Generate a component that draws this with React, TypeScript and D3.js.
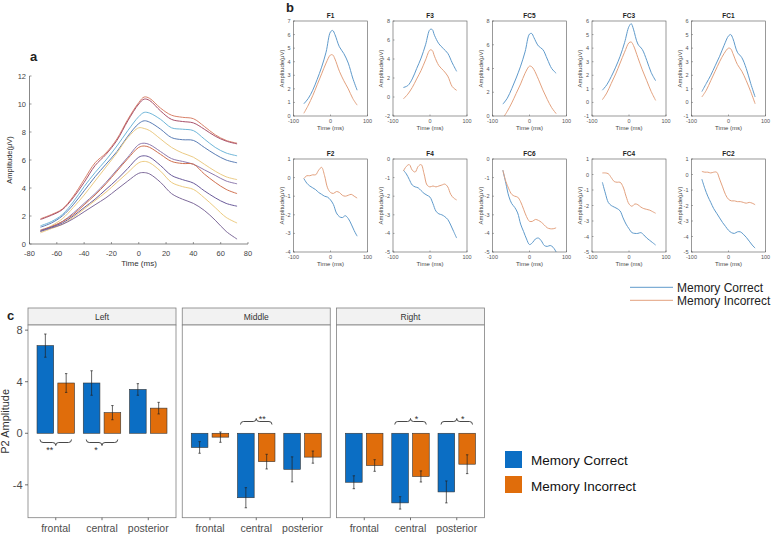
import React from "react";
import * as d3 from "d3";

const FONT = "'Liberation Sans', Arial, sans-serif";

// ---------- a: grand-average waveforms (10 channels) ----------
const timeA = [-72, -64, -56, -48, -40, -32, -24, -16, -8, 0, 4, 8, 16, 24, 32, 40, 48, 56, 64, 72];
const waveA1 = [1.8, 2.1, 2.5, 3.4, 4.6, 5.8, 6.5, 7.5, 8.9, 10.1, 10.5, 10.4, 9.7, 9.2, 9.05, 8.95, 8.4, 7.8, 7.4, 7.2];
const waveA2 = [1.75, 2.05, 2.45, 3.3, 4.4, 5.6, 6.4, 7.4, 8.8, 10.0, 10.35, 10.25, 9.5, 8.9, 8.75, 8.65, 8.2, 7.7, 7.35, 7.15];
const waveA3 = [1.3, 1.6, 2.1, 3.0, 4.1, 5.1, 6.0, 7.0, 8.1, 9.1, 9.4, 9.35, 8.9, 8.3, 8.2, 8.1, 7.5, 6.9, 6.5, 6.3];
const waveA4 = [1.2, 1.5, 2.0, 2.8, 3.8, 4.8, 5.7, 6.6, 7.7, 8.6, 8.8, 8.7, 8.2, 7.6, 7.45, 7.4, 6.9, 6.4, 6.0, 5.8];
const waveA5 = [0.9, 1.3, 1.8, 2.6, 3.5, 4.5, 5.5, 6.5, 7.6, 8.3, 8.25, 8.1, 7.5, 6.9, 6.5, 6.2, 5.7, 5.2, 4.8, 4.6];
const waveA6 = [0.9, 1.2, 1.6, 2.2, 2.9, 3.6, 4.4, 5.3, 6.2, 7.1, 7.2, 7.1, 6.6, 6.1, 5.9, 5.7, 5.3, 4.9, 4.5, 4.3];
const waveA7 = [1.0, 1.25, 1.6, 2.1, 2.8, 3.5, 4.3, 5.2, 6.1, 6.9, 7.0, 6.9, 6.4, 5.9, 5.75, 5.7, 5.0, 4.4, 3.9, 3.6];
const waveA8 = [0.95, 1.2, 1.5, 2.0, 2.6, 3.2, 3.9, 4.6, 5.4, 6.2, 6.3, 6.2, 5.6, 4.9, 4.6, 4.35, 3.8, 3.3, 2.9, 2.7];
const waveA9 = [0.8, 1.1, 1.4, 1.9, 2.5, 3.1, 3.7, 4.4, 5.1, 5.8, 5.9, 5.8, 5.2, 4.4, 4.1, 3.9, 3.3, 2.6, 1.9, 1.5];
const waveA10 = [0.9, 1.15, 1.4, 1.8, 2.3, 2.8, 3.3, 3.9, 4.5, 5.05, 5.1, 5.0, 4.4, 3.6, 3.2, 2.9, 2.4, 1.7, 0.9, 0.35];
const wavesA = [waveA1, waveA2, waveA3, waveA4, waveA5, waveA6, waveA7, waveA8, waveA9, waveA10];
const waveColorsA = ["#D9826A", "#A8506A", "#6FB6D9", "#5A7DB5", "#EBCB85", "#8E7AAE", "#D0704F", "#6A5A9A", "#EDCB80", "#7E6A9A"];

// ---------- b: per-channel waveforms by memory outcome ----------
const timeB1 = [-72, -60, -48, -36, -24, -12, 0, 6, 12, 24, 36, 48, 60, 72];
const timeB2 = [-72, -64, -56, -48, -40, -32, -24, -16, -8, 0, 8, 16, 24, 32, 40, 48, 56, 64, 72];

const channelsTop = ["F1", "F3", "FC5", "FC3", "FC1"];
const channelsBottom = ["F2", "F4", "FC6", "FC4", "FC2"];

const correctF1 = [0.9, 1.3, 1.9, 2.7, 3.6, 4.7, 6.2, 6.3, 6.0, 5.1, 4.6, 3.9, 2.8, 1.9];
const incorrectF1 = [0.2, 0.8, 1.5, 2.3, 3.1, 3.9, 4.5, 4.5, 4.2, 3.3, 2.6, 2.0, 1.3, 0.8];
const correctF3 = [1.0, 1.2, 1.9, 3.0, 4.1, 5.5, 7.1, 7.1, 6.5, 5.6, 5.1, 4.6, 3.6, 2.7];
const incorrectF3 = [-0.2, 0.3, 1.0, 1.9, 2.8, 3.9, 4.95, 4.9, 4.3, 3.3, 2.8, 2.2, 1.1, 0.7];
const correctFC5 = [1.0, 1.5, 2.3, 3.2, 4.2, 5.4, 6.9, 6.95, 6.6, 5.9, 5.6, 4.8, 4.0, 3.6];
const incorrectFC5 = [-0.2, 0.4, 1.1, 1.9, 2.7, 3.6, 4.2, 4.15, 3.9, 3.1, 2.2, 1.4, 0.7, 0.2];
const correctFC3 = [0.9, 1.3, 1.9, 2.6, 3.4, 4.4, 5.6, 5.8, 5.4, 4.3, 3.9, 3.1, 2.2, 1.6];
const incorrectFC3 = [0.2, 0.7, 1.4, 2.1, 2.9, 3.7, 4.4, 4.45, 4.2, 3.3, 2.4, 1.6, 0.8, 0.15];
const correctFC1 = [0.8, 1.4, 2.0, 2.7, 3.4, 4.2, 4.9, 5.0, 4.7, 3.7, 3.3, 2.5, 1.4, 0.4];
const incorrectFC1 = [0.4, 0.9, 1.6, 2.3, 3.0, 3.6, 4.0, 3.95, 3.6, 2.8, 2.3, 1.6, 0.8, -0.1];

const correctF2 = [-0.05, -0.3, -0.45, -0.55, -0.65, -0.8, -0.9, -1.0, -1.05, -1.2, -1.45, -1.9, -2.1, -2.15, -2.05, -2.2, -2.5, -2.85, -3.15];
const incorrectF2 = [-0.05, 0.1, 0.1, 0.15, 0.15, 0.4, 0.55, 0.1, -0.55, -0.8, -0.85, -0.75, -0.8, -0.95, -1.0, -0.95, -0.9, -1.0, -1.1];
const correctF4 = [-0.6, -0.8, -1.1, -1.4, -1.5, -1.55, -1.7, -1.85, -1.95, -2.05, -2.4, -2.8, -2.95, -3.0, -3.1, -3.25, -3.55, -3.9, -4.25];
const incorrectF4 = [-0.65, -0.4, -0.3, -0.6, -0.7, -0.4, -0.3, -0.8, -1.4, -1.5, -1.45, -1.5, -1.45, -1.4, -1.35, -1.5, -1.9, -2.1, -2.2];
const correctFC6 = [-0.6, -1.3, -2.0, -2.4, -2.6, -2.9, -3.5, -3.9, -4.3, -4.6, -4.5, -4.3, -4.25, -4.4, -4.65, -4.7, -4.65, -4.75, -5.0];
const incorrectFC6 = [-0.6, -1.2, -1.6, -1.9, -2.0, -2.05, -2.3, -2.7, -3.1, -3.35, -3.35, -3.25, -3.3, -3.4, -3.55, -3.7, -3.75, -3.75, -3.7];
const correctFC4 = [-0.5, -1.2, -1.8, -2.0, -2.1, -2.2, -2.35, -2.8, -3.2, -3.5, -3.75, -3.8, -3.8, -3.75, -3.9, -4.1, -4.25, -4.4, -4.55];
const incorrectFC4 = [0.1, 0.1, 0.05, -0.2, -0.45, -0.5, -0.5, -0.8, -1.4, -1.9, -2.05, -1.9, -1.95, -2.1, -2.2, -2.25, -2.3, -2.4, -2.5];
const correctFC2 = [-0.3, -0.9, -1.4, -1.8, -2.2, -2.5, -2.8, -3.1, -3.35, -3.6, -3.75, -3.8, -3.7, -3.7, -3.85, -4.05, -4.3, -4.55, -4.75];
const incorrectFC2 = [0.2, 0.15, 0.15, 0.1, 0.15, 0.15, -0.3, -0.8, -1.3, -1.6, -1.7, -1.7, -1.75, -1.75, -1.8, -1.85, -1.8, -1.85, -1.95];

const yLimitsTop = [[0, 7], [-2, 8], [0, 8], [-1, 6], [-1, 6]];
const yStepsTop = [1, 2, 2, 1, 1];
const yLimitsBottom = [[-4, 1], [-5, 0], [-5, 0], [-5, 1], [-5, 1]];
const correctTop = [correctF1, correctF3, correctFC5, correctFC3, correctFC1];
const incorrectTop = [incorrectF1, incorrectF3, incorrectFC5, incorrectFC3, incorrectFC1];
const correctBottom = [correctF2, correctF4, correctFC6, correctFC4, correctFC2];
const incorrectBottom = [incorrectF2, incorrectF4, incorrectFC6, incorrectFC4, incorrectFC2];
const timeTicksB = [-100, 0, 100];

const LINE_BLUE = "#5F9ACB";
const LINE_ORANGE = "#E3A17E";

// ---------- c: P2 amplitude by region and site ----------
const regions = ["Left", "Middle", "Right"];
const sites = ["frontal", "central", "posterior"];
const correctMean = [[6.8, 3.9, 3.4], [-1.1, -5.0, -2.8], [-3.8, -5.4, -4.55]];
const correctSE = [[0.9, 0.95, 0.45], [0.45, 0.78, 0.97], [0.5, 0.48, 0.85]];
const incorrectMean = [[3.9, 1.6, 1.95], [-0.3, -2.2, -1.85], [-2.5, -3.35, -2.4]];
const incorrectSE = [[0.73, 0.55, 0.45], [0.4, 0.57, 0.47], [0.45, 0.43, 0.73]];
const yTicksC = [-4, 0, 4, 8];
// significance braces: region index, site index, label, placed below (true) or above (false) the bars
const sigRegion = [0, 0, 1, 2, 2];
const sigSite = [0, 1, 1, 1, 2];
const sigLabel = ["**", "*", "**", "*", "*"];
const sigBelow = [true, true, false, false, false];

const BAR_BLUE = "#0B6EC4";
const BAR_ORANGE = "#E06D0B";
const legendLabels = ["Memory Correct", "Memory Incorrect"];

function PanelA() {
  const x = d3.scaleLinear().domain([-80, 80]).range([29.5, 248]);
  const y = d3.scaleLinear().domain([0, 12]).range([244, 76]);
  const line = d3
    .line<number>()
    .x((_, i) => x(timeA[i]))
    .y((d) => y(d))
    .curve(d3.curveCatmullRom);
  const axisColor = "#555";
  return (
    <g>
      <text x={30} y={61} fontSize={13} fontWeight="bold" fill="#222">a</text>
      {wavesA.map((w, i) => (
        <path key={i} d={line(w) || ""} fill="none" stroke={waveColorsA[i]} strokeWidth={1} />
      ))}
      <line x1={x(-80)} x2={x(80)} y1={y(0)} y2={y(0)} stroke={axisColor} strokeWidth={0.7} />
      <line x1={x(-80)} x2={x(-80)} y1={y(0)} y2={y(12)} stroke={axisColor} strokeWidth={0.7} />
      {x.ticks(8).map((t) => (
        <g key={t}>
          <line x1={x(t)} x2={x(t)} y1={y(0)} y2={y(0) - 2} stroke={axisColor} strokeWidth={0.6} />
          <text x={x(t)} y={255.5} fontSize={7.5} textAnchor="middle" fill="#444" fontFamily={FONT}>{t}</text>
        </g>
      ))}
      {y.ticks(6).map((t) => (
        <g key={t}>
          <line x1={x(-80)} x2={x(-80) + 2} y1={y(t)} y2={y(t)} stroke={axisColor} strokeWidth={0.6} />
          <text x={26} y={y(t) + 2.6} fontSize={7.5} textAnchor="end" fill="#444" fontFamily={FONT}>{t}</text>
        </g>
      ))}
      <text x={139} y={266} fontSize={8} textAnchor="middle" fill="#333" fontFamily={FONT}>Time (ms)</text>
      <text transform={`translate(12,160) rotate(-90)`} fontSize={7.5} textAnchor="middle" fill="#333" fontFamily={FONT}>Amplitude(μV)</text>
    </g>
  );
}

interface SmallProps {
  id: string;
  title: string;
  x0: number;
  y0: number;
  w: number;
  h: number;
  ylim: number[];
  step: number;
  times: number[];
  correct: number[];
  incorrect: number[];
}

function SmallPanel({ id, title, x0, y0, w, h, ylim, step, times, correct, incorrect }: SmallProps) {
  const x = d3.scaleLinear().domain([-100, 100]).range([x0, x0 + w]);
  const y = d3.scaleLinear().domain(ylim).range([y0 + h, y0]);
  const line = d3
    .line<number>()
    .x((_, i) => x(times[i]))
    .y((d) => y(d))
    .curve(d3.curveCatmullRom);
  const yTicks = d3.range(ylim[0], ylim[1] + step / 2, step);
  const c = "#555";
  return (
    <g>
      <defs>
        <clipPath id={id}>
          <rect x={x0} y={y0} width={w} height={h} />
        </clipPath>
      </defs>
      <g clipPath={`url(#${id})`}>
        <path d={line(correct) || ""} fill="none" stroke={LINE_BLUE} strokeWidth={1} />
        <path d={line(incorrect) || ""} fill="none" stroke={LINE_ORANGE} strokeWidth={1} />
      </g>
      <rect x={x0} y={y0} width={w} height={h} fill="none" stroke={c} strokeWidth={0.6} />
      {timeTicksB.map((t) => (
        <g key={t}>
          <line x1={x(t)} x2={x(t)} y1={y0 + h} y2={y0 + h - 1.5} stroke={c} strokeWidth={0.5} />
          <text x={x(t)} y={y0 + h + 7} fontSize={5.5} textAnchor="middle" fill="#555" fontFamily={FONT}>{t}</text>
        </g>
      ))}
      {yTicks.map((t) => (
        <g key={t}>
          <line x1={x0} x2={x0 + 1.5} y1={y(t)} y2={y(t)} stroke={c} strokeWidth={0.5} />
          <text x={x0 - 3} y={y(t) + 2} fontSize={5.5} textAnchor="end" fill="#555" fontFamily={FONT}>{t}</text>
        </g>
      ))}
      <text x={x0 + w / 2} y={y0 - 3} fontSize={6.5} fontWeight="bold" textAnchor="middle" fill="#222" fontFamily={FONT}>{title}</text>
      <text x={x0 + w / 2} y={y0 + h + 14} fontSize={6} textAnchor="middle" fill="#444" fontFamily={FONT}>Time (ms)</text>
      <text transform={`translate(${x0 - 10},${y0 + h / 2}) rotate(-90)`} fontSize={6} textAnchor="middle" fill="#444" fontFamily={FONT}>Amplitude(μV)</text>
    </g>
  );
}

function PanelB() {
  const w = 74;
  const colX = d3.scaleLinear().domain([0, 4]).range([293.5, 691.5]);
  return (
    <g>
      <text x={286} y={12} fontSize={13} fontWeight="bold" fill="#222">b</text>
      {channelsTop.map((ch, i) => (
        <SmallPanel key={ch} id={`clip-${ch}`} title={ch} x0={colX(i)} y0={21} w={w} h={95}
          ylim={yLimitsTop[i]} step={yStepsTop[i]} times={timeB1} correct={correctTop[i]} incorrect={incorrectTop[i]} />
      ))}
      {channelsBottom.map((ch, i) => (
        <SmallPanel key={ch} id={`clip-${ch}`} title={ch} x0={colX(i)} y0={159} w={w} h={93}
          ylim={yLimitsBottom[i]} step={1} times={timeB2} correct={correctBottom[i]} incorrect={incorrectBottom[i]} />
      ))}
      {legendLabels.map((lab, i) => (
        <g key={lab}>
          <line x1={630} x2={673} y1={287.3 + i * 13} y2={287.3 + i * 13} stroke={i === 0 ? LINE_BLUE : LINE_ORANGE} strokeWidth={1} />
          <text x={677} y={291.5 + i * 13} fontSize={12} fill="#222" fontFamily={FONT}>{lab}</text>
        </g>
      ))}
    </g>
  );
}

function bracePath(x1: number, x2: number, y: number, below: boolean) {
  const d = below ? -3 : 3; // end hooks point toward the bars
  const xm = (x1 + x2) / 2;
  return `M${x1},${y + d} Q${x1},${y} ${x1 + 3},${y} L${xm - 3},${y} Q${xm},${y} ${xm},${y - d} Q${xm},${y} ${xm + 3},${y} L${x2 - 3},${y} Q${x2},${y} ${x2},${y + d}`;
}

function PanelC() {
  const panelW = 148;
  const panelLeft = d3.scaleLinear().domain([0, 2]).range([28, 336.5]);
  const top = 308;
  const stripBottom = 325;
  const bottom = 517.7;
  const y = d3.scaleLinear().domain([-6.55, 8.4]).range([bottom, stripBottom]);
  const frame = "#808080";
  return (
    <g fontFamily={FONT}>
      <text x={7} y={320} fontSize={13} fontWeight="bold" fill="#222">c</text>
      {regions.map((reg, r) => {
        const px = panelLeft(r);
        const xs = d3.scalePoint<string>().domain(sites).range([px, px + panelW]).padding(0.6);
        const step = xs.step();
        const bw = 0.36 * step;
        const off = 0.225 * step;
        return (
          <g key={reg}>
            <rect x={px} y={top} width={panelW} height={stripBottom - top} fill="#F2F2F2" stroke={frame} strokeWidth={0.8} />
            <text x={px + panelW / 2} y={top + 11.5} fontSize={8.5} textAnchor="middle" fill="#333">{reg}</text>
            <rect x={px} y={stripBottom} width={panelW} height={bottom - stripBottom} fill="#fff" stroke={frame} strokeWidth={0.8} />
            {sites.map((s, k) => {
              const cx = xs(s) as number;
              const bars = [
                { m: correctMean[r][k], se: correctSE[r][k], fill: BAR_BLUE, c: cx - off },
                { m: incorrectMean[r][k], se: incorrectSE[r][k], fill: BAR_ORANGE, c: cx + off },
              ];
              return (
                <g key={s}>
                  {bars.map((b, j) => (
                    <g key={j}>
                      <rect x={b.c - bw / 2} y={Math.min(y(0), y(b.m))} width={bw} height={Math.abs(y(b.m) - y(0))}
                        fill={b.fill} stroke="#333" strokeWidth={0.6} />
                      <line x1={b.c} x2={b.c} y1={y(b.m + b.se)} y2={y(b.m - b.se)} stroke="#222" strokeWidth={0.7} />
                      <line x1={b.c - 1.2} x2={b.c + 1.2} y1={y(b.m + b.se)} y2={y(b.m + b.se)} stroke="#222" strokeWidth={0.7} />
                      <line x1={b.c - 1.2} x2={b.c + 1.2} y1={y(b.m - b.se)} y2={y(b.m - b.se)} stroke="#222" strokeWidth={0.7} />
                    </g>
                  ))}
                  <line x1={cx} x2={cx} y1={bottom} y2={bottom + 2.5} stroke="#333" strokeWidth={0.7} />
                  <text x={cx} y={532} fontSize={10.5} textAnchor="middle" fill="#4d4d4d">{s}</text>
                </g>
              );
            })}
          </g>
        );
      })}
      {sigRegion.map((r, i) => {
        const px = panelLeft(r);
        const xs = d3.scalePoint<string>().domain(sites).range([px, px + panelW]).padding(0.6);
        const step = xs.step();
        const cx = xs(sites[sigSite[i]]) as number;
        const x1 = cx - 0.34 * step;
        const x2 = cx + 0.34 * step;
        const below = sigBelow[i];
        const yb = below ? 442.5 : 421.5;
        const starX = below ? cx - 6 : cx + 6;
        const starY = below ? 452.5 : 422;
        return (
          <g key={i}>
            <path d={bracePath(x1, x2, yb, below)} fill="none" stroke="#333" strokeWidth={0.9} />
            <text x={starX} y={starY} fontSize={9} textAnchor="middle" fill="#333">{sigLabel[i]}</text>
          </g>
        );
      })}
      {yTicksC.map((t) => (
        <g key={t}>
          <line x1={25} x2={28} y1={y(t)} y2={y(t)} stroke="#333" strokeWidth={0.7} />
          <text x={22.5} y={y(t) + 3.8} fontSize={11} textAnchor="end" fill="#4d4d4d">{t}</text>
        </g>
      ))}
      <text transform={`translate(9,${(stripBottom + bottom) / 2}) rotate(-90)`} fontSize={11} textAnchor="middle" fill="#333">P2 Amplitude</text>
      {legendLabels.map((lab, i) => (
        <g key={lab}>
          <rect x={505} y={451 + i * 25} width={17} height={17} fill={i === 0 ? BAR_BLUE : BAR_ORANGE} />
          <text x={531} y={464.5 + i * 26} fontSize={13.5} fill="#111">{lab}</text>
        </g>
      ))}
    </g>
  );
}

export default function App() {
  return (
    <svg width={774} height={534} viewBox="0 0 774 534"
      style={{ position: "absolute", left: 0, top: 0, background: "#fff" }} fontFamily={FONT}>
      <rect width={774} height={534} fill="#fff" />
      <PanelA />
      <PanelB />
      <PanelC />
    </svg>
  );
}
